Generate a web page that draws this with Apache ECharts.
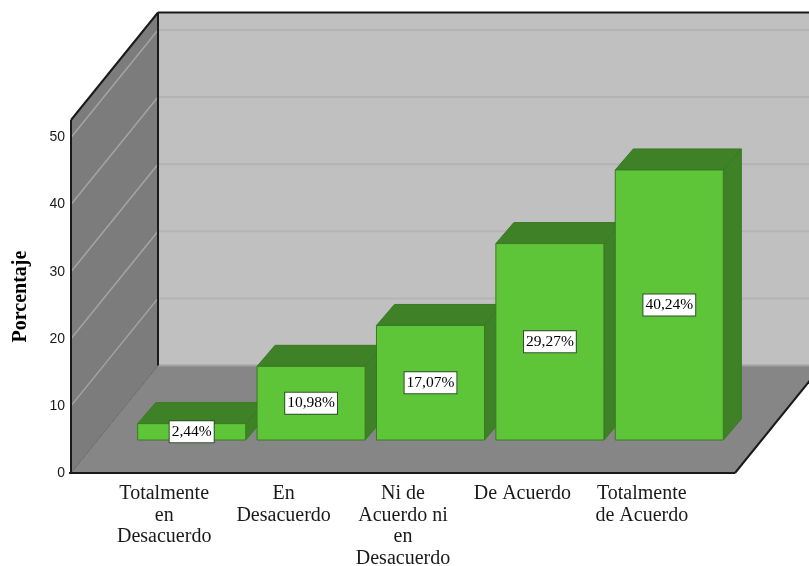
<!DOCTYPE html>
<html>
<head>
<meta charset="utf-8">
<style>html,body{margin:0;padding:0;background:#fff}#c{width:809px;height:566px}</style>
<script src="https://cdn.jsdelivr.net/npm/echarts@6/dist/echarts.min.js"></script>
</head>
<body>
<div id="c"></div>
<script>
var categories = ['Totalmente\nen\nDesacuerdo', 'En\nDesacuerdo', 'Ni de\nAcuerdo ni\nen\nDesacuerdo', 'De Acuerdo', 'Totalmente\nde Acuerdo'];
var percentages = [2.44, 10.98, 17.07, 29.27, 40.24];
var yTicks = [0, 10, 20, 30, 40, 50];
var yMax = 52.6;

// Oblique projection of the plot box and the bars, in pixels
var boxDepth = { x: 87, y: -107.5 };
var barNear = { x: 27.5, y: -33 };
var barDepth = { x: 18, y: -21 };
var boxRight = 735;

var colors = {
  wall: '#c0c0c0', wallGrid: '#b4b4b4',
  side: '#7c7c7c', sideGrid: '#a4a4a4',
  floor: '#868686', frame: '#1a1a1a',
  front: '#5ec538', dark: '#3f8126', edge: '#3a7a22'
};

function poly(points, fill, stroke) {
  return { type: 'polygon', shape: { points: points }, style: { fill: fill, stroke: stroke || null, lineWidth: 1 } };
}
function line(a, b, color, width) {
  return { type: 'line', shape: { x1: a[0], y1: a[1], x2: b[0], y2: b[1] }, style: { stroke: color, lineWidth: width } };
}

// Walls, floor and the gridlines that run across them
function renderFrame(params, api) {
  var origin = api.coord([0, 0]);
  var top = api.coord([0, yMax]);
  var left = 71, bottom = origin[1], ceil = top[1];
  var right = api.getWidth() + 30;
  var d = boxDepth;
  var backL = left + d.x;
  var kids = [
    poly([[backL, ceil + d.y], [right, ceil + d.y], [right, bottom + d.y], [backL, bottom + d.y]], colors.wall),
    poly([[left, ceil], [backL, ceil + d.y], [backL, bottom + d.y], [left, bottom]], colors.side),
    poly([[left, bottom], [boxRight, bottom], [boxRight + d.x, bottom + d.y], [right, bottom + d.y], [backL, bottom + d.y]], colors.floor)
  ];
  yTicks.forEach(function (t) {
    if (!t) return;
    var y = api.coord([0, t])[1];
    kids.push(line([backL, y + d.y], [right, y + d.y], colors.wallGrid, 2));
    kids.push(line([left, y], [backL, y + d.y], colors.sideGrid, 1.5));
  });
  kids.push(line([backL, bottom + d.y], [right, bottom + d.y], '#a2a2a2', 2));
  kids.push(line([left, bottom], [backL, bottom + d.y], '#6a6a6a', 1));
  kids.push(line([backL, ceil + d.y], [right, ceil + d.y], colors.frame, 2));
  kids.push(line([backL, ceil + d.y], [backL, bottom + d.y], colors.frame, 2));
  kids.push(line([left, ceil], [backL, ceil + d.y], colors.frame, 2));
  kids.push(line([left, ceil], [left, bottom], colors.frame, 2));
  kids.push(line([left - 2, bottom], [boxRight, bottom], colors.frame, 2));
  kids.push(line([boxRight, bottom], [boxRight + d.x, bottom + d.y], colors.frame, 2));
  return { type: 'group', children: kids };
}

// One extruded bar with its value tag
function renderBar(params, api) {
  var idx = api.value(0), val = api.value(1);
  var band = api.size([1, 0])[0];
  var w = band * 0.905;
  var base = api.coord([idx, 0]);
  var head = api.coord([idx, val]);
  var x0 = base[0] - w / 2 + barNear.x, x1 = x0 + w;
  var y0 = base[1] + barNear.y, y1 = head[1] + barNear.y;
  var dx = barDepth.x, dy = barDepth.y;
  return {
    type: 'group',
    children: [
      poly([[x1, y1], [x1 + dx, y1 + dy], [x1 + dx, y0 + dy], [x1, y0]], colors.dark, colors.edge),
      poly([[x0, y1], [x0 + dx, y1 + dy], [x1 + dx, y1 + dy], [x1, y1]], colors.dark, colors.edge),
      { type: 'rect', shape: { x: x0, y: y1, width: w, height: y0 - y1 }, style: { fill: colors.front, stroke: colors.edge, lineWidth: 1 } },
      {
        type: 'text',
        x: (x0 + x1) / 2, y: (y0 + y1) / 2,
        style: {
          text: val.toFixed(2).replace('.', ',') + '%',
          font: '15.5px "Liberation Serif"', fill: '#000',
          align: 'center', verticalAlign: 'middle',
          backgroundColor: '#fff', borderColor: '#2f4f2a', borderWidth: 1,
          padding: [3, 2, 2, 2]
        }
      }
    ]
  };
}

var chart = echarts.init(document.getElementById('c'), null, { renderer: 'canvas' });
chart.setOption({
  animation: false,
  backgroundColor: '#fff',
  grid: { left: 104.5, width: 597, top: 120, height: 353, containLabel: false, outerBoundsMode: 'none' },
  xAxis: {
    type: 'category',
    data: categories,
    axisLine: { show: false },
    axisTick: { show: false },
    axisLabel: { color: '#1a1a1a', fontFamily: 'Liberation Serif', fontSize: 20, lineHeight: 21.5, margin: 10, interval: 0 }
  },
  yAxis: {
    type: 'value',
    min: 0, max: yMax, interval: 10,
    offset: 33.5,
    name: 'Porcentaje',
    nameLocation: 'middle',
    nameGap: 40,
    nameTextStyle: { fontFamily: 'Liberation Serif', fontWeight: 'bold', fontSize: 20, color: '#000' },
    axisLine: { show: false },
    axisTick: { show: false },
    splitLine: { show: false },
    axisLabel: {
      color: '#1a1a1a', fontFamily: 'Liberation Sans', fontSize: 14, margin: 6,
      formatter: function (v) { return yTicks.indexOf(v) >= 0 ? String(v) : ''; }
    }
  },
  series: [
    { type: 'custom', data: [[0, 0]], renderItem: renderFrame, silent: true, z: 1, clip: false, encode: { x: 0, y: 1 } },
    { type: 'custom', data: percentages.map(function (v, i) { return [i, v]; }), renderItem: renderBar, z: 2, clip: false, encode: { x: 0, y: 1 } }
  ]
});
</script>
</body>
</html>
